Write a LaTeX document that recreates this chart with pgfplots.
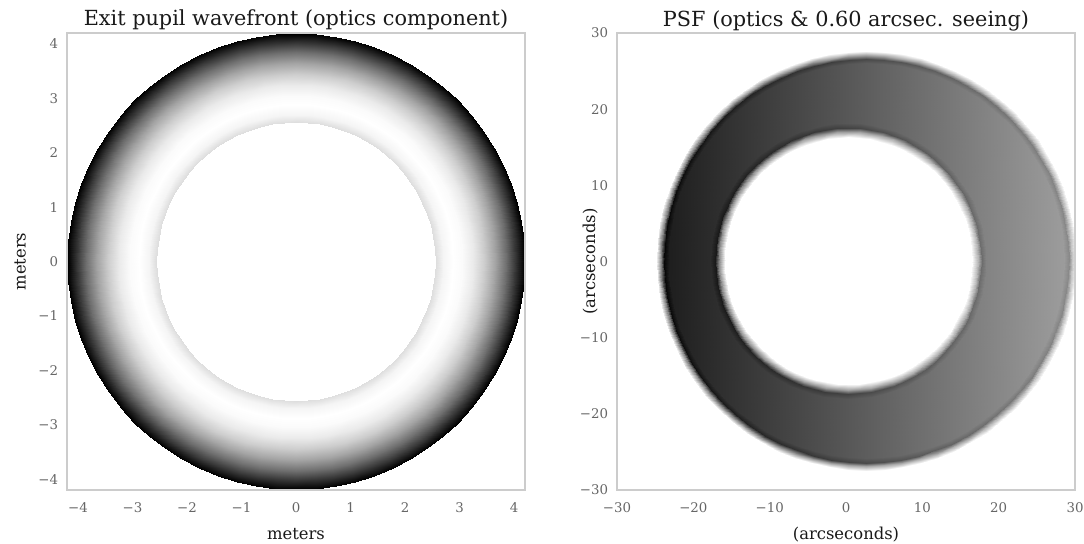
\documentclass[border=0pt]{standalone}
\usepackage{pgfplots}
\pgfplotsset{compat=1.18}
\usepackage{fontspec}
\setmainfont{DejaVu Serif}
\definecolor{tickgray}{gray}{0.40}
\definecolor{framegray}{gray}{0.80}
\definecolor{textdark}{gray}{0.10}
\pgfplotsset{
  base/.style={scale only axis, width=343.5pt, height=342.75pt, anchor=south west},
  disc/.style={base, hide axis, colormap/blackwhite, point meta min=0, point meta max=1},
  frame/.style={base,
    axis line style={line width=0.8pt, draw=framegray},
    major tick length=0pt, tick style={draw=none},
    tick label style={font=\fontsize{10}{12}\selectfont, text=tickgray, inner sep=0pt},
    xticklabel style={anchor=center, yshift=-13.5pt},
    yticklabel style={anchor=east, xshift=-6.5pt},
    every axis title shift=0pt,
    title style={font=\fontsize{15.6}{18}\selectfont, text=textdark, at={(axis description cs:0.5,1)}, anchor=base, yshift=5.25pt},
    label style={font=\fontsize{12.3}{15}\selectfont, text=textdark},
    xlabel style={at={(axis description cs:0.5,0)}, anchor=base, yshift=-36.75pt},
  },
}
\begin{document}
\begin{tikzpicture}
\path[use as bounding box] (0,0) rectangle (813pt,407.25pt);
% ---------------- left panel ----------------
\begin{axis}[frame, at={(50.25pt,39.75pt)}, axis on top,
  xmin=-4.2, xmax=4.2, ymin=-4.2, ymax=4.2,
  colormap/blackwhite, point meta min=0, point meta max=1,
  xtick={-4,-3,...,4}, xticklabels={−4,−3,−2,−1,0,1,2,3,4},
  ytick={-4,-3,...,4}, yticklabels={−4,−3,−2,−1,0,1,2,3,4},
  title={Exit pupil wavefront (optics component)},
  xlabel={meters}, ylabel={meters},
  ylabel style={at={(axis description cs:-0.0906,0.5)}, anchor=base}]
\addplot[surf, shader=interp, data cs=polar, point meta=explicit, mesh/cols=73]
 table[x=a, y=r, meta=c]{
a r c
0 2.56 .87
5 2.56 .87
10 2.56 .87
15 2.56 .87
20 2.56 .87
25 2.56 .87
30 2.56 .87
35 2.56 .87
40 2.56 .87
45 2.56 .87
50 2.56 .87
55 2.56 .87
60 2.56 .87
65 2.56 .87
70 2.56 .87
75 2.56 .87
80 2.56 .87
85 2.56 .87
90 2.56 .87
95 2.56 .87
100 2.56 .87
105 2.56 .87
110 2.56 .87
115 2.56 .87
120 2.56 .87
125 2.56 .87
130 2.56 .87
135 2.56 .87
140 2.56 .87
145 2.56 .87
150 2.56 .87
155 2.56 .87
160 2.56 .87
165 2.56 .87
170 2.56 .87
175 2.56 .87
180 2.56 .87
185 2.56 .87
190 2.56 .87
195 2.56 .87
200 2.56 .87
205 2.56 .87
210 2.56 .87
215 2.56 .87
220 2.56 .87
225 2.56 .87
230 2.56 .87
235 2.56 .87
240 2.56 .87
245 2.56 .87
250 2.56 .87
255 2.56 .87
260 2.56 .87
265 2.56 .87
270 2.56 .87
275 2.56 .87
280 2.56 .87
285 2.56 .87
290 2.56 .87
295 2.56 .87
300 2.56 .87
305 2.56 .87
310 2.56 .87
315 2.56 .87
320 2.56 .87
325 2.56 .87
330 2.56 .87
335 2.56 .87
340 2.56 .87
345 2.56 .87
350 2.56 .87
355 2.56 .87
360 2.56 .87

0 2.70 .96
5 2.70 .96
10 2.70 .96
15 2.70 .96
20 2.70 .96
25 2.70 .96
30 2.70 .96
35 2.70 .96
40 2.70 .96
45 2.70 .96
50 2.70 .96
55 2.70 .96
60 2.70 .96
65 2.70 .96
70 2.70 .96
75 2.70 .96
80 2.70 .96
85 2.70 .96
90 2.70 .96
95 2.70 .96
100 2.70 .96
105 2.70 .96
110 2.70 .96
115 2.70 .96
120 2.70 .96
125 2.70 .96
130 2.70 .96
135 2.70 .96
140 2.70 .96
145 2.70 .96
150 2.70 .96
155 2.70 .96
160 2.70 .96
165 2.70 .96
170 2.70 .96
175 2.70 .96
180 2.70 .96
185 2.70 .96
190 2.70 .96
195 2.70 .96
200 2.70 .96
205 2.70 .96
210 2.70 .96
215 2.70 .96
220 2.70 .96
225 2.70 .96
230 2.70 .96
235 2.70 .96
240 2.70 .96
245 2.70 .96
250 2.70 .96
255 2.70 .96
260 2.70 .96
265 2.70 .96
270 2.70 .96
275 2.70 .96
280 2.70 .96
285 2.70 .96
290 2.70 .96
295 2.70 .96
300 2.70 .96
305 2.70 .96
310 2.70 .96
315 2.70 .96
320 2.70 .96
325 2.70 .96
330 2.70 .96
335 2.70 .96
340 2.70 .96
345 2.70 .96
350 2.70 .96
355 2.70 .96
360 2.70 .96

0 2.88 1
5 2.88 1
10 2.88 1
15 2.88 1
20 2.88 1
25 2.88 1
30 2.88 1
35 2.88 1
40 2.88 1
45 2.88 1
50 2.88 1
55 2.88 1
60 2.88 1
65 2.88 1
70 2.88 1
75 2.88 1
80 2.88 1
85 2.88 1
90 2.88 1
95 2.88 1
100 2.88 1
105 2.88 1
110 2.88 1
115 2.88 1
120 2.88 1
125 2.88 1
130 2.88 1
135 2.88 1
140 2.88 1
145 2.88 1
150 2.88 1
155 2.88 1
160 2.88 1
165 2.88 1
170 2.88 1
175 2.88 1
180 2.88 1
185 2.88 1
190 2.88 1
195 2.88 1
200 2.88 1
205 2.88 1
210 2.88 1
215 2.88 1
220 2.88 1
225 2.88 1
230 2.88 1
235 2.88 1
240 2.88 1
245 2.88 1
250 2.88 1
255 2.88 1
260 2.88 1
265 2.88 1
270 2.88 1
275 2.88 1
280 2.88 1
285 2.88 1
290 2.88 1
295 2.88 1
300 2.88 1
305 2.88 1
310 2.88 1
315 2.88 1
320 2.88 1
325 2.88 1
330 2.88 1
335 2.88 1
340 2.88 1
345 2.88 1
350 2.88 1
355 2.88 1
360 2.88 1

0 3.05 .983
5 3.05 .983
10 3.05 .983
15 3.05 .983
20 3.05 .983
25 3.05 .983
30 3.05 .983
35 3.05 .983
40 3.05 .983
45 3.05 .983
50 3.05 .983
55 3.05 .983
60 3.05 .983
65 3.05 .983
70 3.05 .983
75 3.05 .983
80 3.05 .983
85 3.05 .983
90 3.05 .983
95 3.05 .983
100 3.05 .983
105 3.05 .983
110 3.05 .983
115 3.05 .983
120 3.05 .983
125 3.05 .983
130 3.05 .983
135 3.05 .983
140 3.05 .983
145 3.05 .983
150 3.05 .983
155 3.05 .983
160 3.05 .983
165 3.05 .983
170 3.05 .983
175 3.05 .983
180 3.05 .983
185 3.05 .983
190 3.05 .983
195 3.05 .983
200 3.05 .983
205 3.05 .983
210 3.05 .983
215 3.05 .983
220 3.05 .983
225 3.05 .983
230 3.05 .983
235 3.05 .983
240 3.05 .983
245 3.05 .983
250 3.05 .983
255 3.05 .983
260 3.05 .983
265 3.05 .983
270 3.05 .983
275 3.05 .983
280 3.05 .983
285 3.05 .983
290 3.05 .983
295 3.05 .983
300 3.05 .983
305 3.05 .983
310 3.05 .983
315 3.05 .983
320 3.05 .983
325 3.05 .983
330 3.05 .983
335 3.05 .983
340 3.05 .983
345 3.05 .983
350 3.05 .983
355 3.05 .983
360 3.05 .983

0 3.25 .918
5 3.25 .918
10 3.25 .918
15 3.25 .918
20 3.25 .918
25 3.25 .918
30 3.25 .918
35 3.25 .918
40 3.25 .918
45 3.25 .918
50 3.25 .918
55 3.25 .918
60 3.25 .918
65 3.25 .918
70 3.25 .918
75 3.25 .918
80 3.25 .918
85 3.25 .918
90 3.25 .918
95 3.25 .918
100 3.25 .918
105 3.25 .918
110 3.25 .918
115 3.25 .918
120 3.25 .918
125 3.25 .918
130 3.25 .918
135 3.25 .918
140 3.25 .918
145 3.25 .918
150 3.25 .918
155 3.25 .918
160 3.25 .918
165 3.25 .918
170 3.25 .918
175 3.25 .918
180 3.25 .918
185 3.25 .918
190 3.25 .918
195 3.25 .918
200 3.25 .918
205 3.25 .918
210 3.25 .918
215 3.25 .918
220 3.25 .918
225 3.25 .918
230 3.25 .918
235 3.25 .918
240 3.25 .918
245 3.25 .918
250 3.25 .918
255 3.25 .918
260 3.25 .918
265 3.25 .918
270 3.25 .918
275 3.25 .918
280 3.25 .918
285 3.25 .918
290 3.25 .918
295 3.25 .918
300 3.25 .918
305 3.25 .918
310 3.25 .918
315 3.25 .918
320 3.25 .918
325 3.25 .918
330 3.25 .918
335 3.25 .918
340 3.25 .918
345 3.25 .918
350 3.25 .918
355 3.25 .918
360 3.25 .918

0 3.45 .805
5 3.45 .805
10 3.45 .805
15 3.45 .805
20 3.45 .805
25 3.45 .805
30 3.45 .805
35 3.45 .805
40 3.45 .805
45 3.45 .805
50 3.45 .805
55 3.45 .805
60 3.45 .805
65 3.45 .805
70 3.45 .805
75 3.45 .805
80 3.45 .805
85 3.45 .805
90 3.45 .805
95 3.45 .805
100 3.45 .805
105 3.45 .805
110 3.45 .805
115 3.45 .805
120 3.45 .805
125 3.45 .805
130 3.45 .805
135 3.45 .805
140 3.45 .805
145 3.45 .805
150 3.45 .805
155 3.45 .805
160 3.45 .805
165 3.45 .805
170 3.45 .805
175 3.45 .805
180 3.45 .805
185 3.45 .805
190 3.45 .805
195 3.45 .805
200 3.45 .805
205 3.45 .805
210 3.45 .805
215 3.45 .805
220 3.45 .805
225 3.45 .805
230 3.45 .805
235 3.45 .805
240 3.45 .805
245 3.45 .805
250 3.45 .805
255 3.45 .805
260 3.45 .805
265 3.45 .805
270 3.45 .805
275 3.45 .805
280 3.45 .805
285 3.45 .805
290 3.45 .805
295 3.45 .805
300 3.45 .805
305 3.45 .805
310 3.45 .805
315 3.45 .805
320 3.45 .805
325 3.45 .805
330 3.45 .805
335 3.45 .805
340 3.45 .805
345 3.45 .805
350 3.45 .805
355 3.45 .805
360 3.45 .805

0 3.65 .644
5 3.65 .644
10 3.65 .644
15 3.65 .644
20 3.65 .644
25 3.65 .644
30 3.65 .644
35 3.65 .644
40 3.65 .644
45 3.65 .644
50 3.65 .644
55 3.65 .644
60 3.65 .644
65 3.65 .644
70 3.65 .644
75 3.65 .644
80 3.65 .644
85 3.65 .644
90 3.65 .644
95 3.65 .644
100 3.65 .644
105 3.65 .644
110 3.65 .644
115 3.65 .644
120 3.65 .644
125 3.65 .644
130 3.65 .644
135 3.65 .644
140 3.65 .644
145 3.65 .644
150 3.65 .644
155 3.65 .644
160 3.65 .644
165 3.65 .644
170 3.65 .644
175 3.65 .644
180 3.65 .644
185 3.65 .644
190 3.65 .644
195 3.65 .644
200 3.65 .644
205 3.65 .644
210 3.65 .644
215 3.65 .644
220 3.65 .644
225 3.65 .644
230 3.65 .644
235 3.65 .644
240 3.65 .644
245 3.65 .644
250 3.65 .644
255 3.65 .644
260 3.65 .644
265 3.65 .644
270 3.65 .644
275 3.65 .644
280 3.65 .644
285 3.65 .644
290 3.65 .644
295 3.65 .644
300 3.65 .644
305 3.65 .644
310 3.65 .644
315 3.65 .644
320 3.65 .644
325 3.65 .644
330 3.65 .644
335 3.65 .644
340 3.65 .644
345 3.65 .644
350 3.65 .644
355 3.65 .644
360 3.65 .644

0 3.85 .435
5 3.85 .435
10 3.85 .435
15 3.85 .435
20 3.85 .435
25 3.85 .435
30 3.85 .435
35 3.85 .435
40 3.85 .435
45 3.85 .435
50 3.85 .435
55 3.85 .435
60 3.85 .435
65 3.85 .435
70 3.85 .435
75 3.85 .435
80 3.85 .435
85 3.85 .435
90 3.85 .435
95 3.85 .435
100 3.85 .435
105 3.85 .435
110 3.85 .435
115 3.85 .435
120 3.85 .435
125 3.85 .435
130 3.85 .435
135 3.85 .435
140 3.85 .435
145 3.85 .435
150 3.85 .435
155 3.85 .435
160 3.85 .435
165 3.85 .435
170 3.85 .435
175 3.85 .435
180 3.85 .435
185 3.85 .435
190 3.85 .435
195 3.85 .435
200 3.85 .435
205 3.85 .435
210 3.85 .435
215 3.85 .435
220 3.85 .435
225 3.85 .435
230 3.85 .435
235 3.85 .435
240 3.85 .435
245 3.85 .435
250 3.85 .435
255 3.85 .435
260 3.85 .435
265 3.85 .435
270 3.85 .435
275 3.85 .435
280 3.85 .435
285 3.85 .435
290 3.85 .435
295 3.85 .435
300 3.85 .435
305 3.85 .435
310 3.85 .435
315 3.85 .435
320 3.85 .435
325 3.85 .435
330 3.85 .435
335 3.85 .435
340 3.85 .435
345 3.85 .435
350 3.85 .435
355 3.85 .435
360 3.85 .435

0 4.02 .22
5 4.02 .22
10 4.02 .22
15 4.02 .22
20 4.02 .22
25 4.02 .22
30 4.02 .22
35 4.02 .22
40 4.02 .22
45 4.02 .22
50 4.02 .22
55 4.02 .22
60 4.02 .22
65 4.02 .22
70 4.02 .22
75 4.02 .22
80 4.02 .22
85 4.02 .22
90 4.02 .22
95 4.02 .22
100 4.02 .22
105 4.02 .22
110 4.02 .22
115 4.02 .22
120 4.02 .22
125 4.02 .22
130 4.02 .22
135 4.02 .22
140 4.02 .22
145 4.02 .22
150 4.02 .22
155 4.02 .22
160 4.02 .22
165 4.02 .22
170 4.02 .22
175 4.02 .22
180 4.02 .22
185 4.02 .22
190 4.02 .22
195 4.02 .22
200 4.02 .22
205 4.02 .22
210 4.02 .22
215 4.02 .22
220 4.02 .22
225 4.02 .22
230 4.02 .22
235 4.02 .22
240 4.02 .22
245 4.02 .22
250 4.02 .22
255 4.02 .22
260 4.02 .22
265 4.02 .22
270 4.02 .22
275 4.02 .22
280 4.02 .22
285 4.02 .22
290 4.02 .22
295 4.02 .22
300 4.02 .22
305 4.02 .22
310 4.02 .22
315 4.02 .22
320 4.02 .22
325 4.02 .22
330 4.02 .22
335 4.02 .22
340 4.02 .22
345 4.02 .22
350 4.02 .22
355 4.02 .22
360 4.02 .22

0 4.19 0
5 4.19 0
10 4.19 0
15 4.19 0
20 4.19 0
25 4.19 0
30 4.19 0
35 4.19 0
40 4.19 0
45 4.19 0
50 4.19 0
55 4.19 0
60 4.19 0
65 4.19 0
70 4.19 0
75 4.19 0
80 4.19 0
85 4.19 0
90 4.19 0
95 4.19 0
100 4.19 0
105 4.19 0
110 4.19 0
115 4.19 0
120 4.19 0
125 4.19 0
130 4.19 0
135 4.19 0
140 4.19 0
145 4.19 0
150 4.19 0
155 4.19 0
160 4.19 0
165 4.19 0
170 4.19 0
175 4.19 0
180 4.19 0
185 4.19 0
190 4.19 0
195 4.19 0
200 4.19 0
205 4.19 0
210 4.19 0
215 4.19 0
220 4.19 0
225 4.19 0
230 4.19 0
235 4.19 0
240 4.19 0
245 4.19 0
250 4.19 0
255 4.19 0
260 4.19 0
265 4.19 0
270 4.19 0
275 4.19 0
280 4.19 0
285 4.19 0
290 4.19 0
295 4.19 0
300 4.19 0
305 4.19 0
310 4.19 0
315 4.19 0
320 4.19 0
325 4.19 0
330 4.19 0
335 4.19 0
340 4.19 0
345 4.19 0
350 4.19 0
355 4.19 0
360 4.19 0
};
\end{axis}
% ---------------- right panel: outer disc (centre 2.65, 0.1) ----------------
\begin{axis}[disc, at={(462.75pt,39.75pt)},
  xmin=-32.65, xmax=27.35, ymin=-30.1, ymax=29.9]
\addplot[surf, shader=interp, data cs=polar, point meta=explicit, mesh/cols=73]
 table[x=a, y=r, meta=c]{
a r c
0 0 .365
5 0 .365
10 0 .365
15 0 .365
20 0 .365
25 0 .365
30 0 .365
35 0 .365
40 0 .365
45 0 .365
50 0 .365
55 0 .365
60 0 .365
65 0 .365
70 0 .365
75 0 .365
80 0 .365
85 0 .365
90 0 .365
95 0 .365
100 0 .365
105 0 .365
110 0 .365
115 0 .365
120 0 .365
125 0 .365
130 0 .365
135 0 .365
140 0 .365
145 0 .365
150 0 .365
155 0 .365
160 0 .365
165 0 .365
170 0 .365
175 0 .365
180 0 .365
185 0 .365
190 0 .365
195 0 .365
200 0 .365
205 0 .365
210 0 .365
215 0 .365
220 0 .365
225 0 .365
230 0 .365
235 0 .365
240 0 .365
245 0 .365
250 0 .365
255 0 .365
260 0 .365
265 0 .365
270 0 .365
275 0 .365
280 0 .365
285 0 .365
290 0 .365
295 0 .365
300 0 .365
305 0 .365
310 0 .365
315 0 .365
320 0 .365
325 0 .365
330 0 .365
335 0 .365
340 0 .365
345 0 .365
350 0 .365
355 0 .365
360 0 .365

0 25.9 .611
5 25.9 .610
10 25.9 .607
15 25.9 .603
20 25.9 .596
25 25.9 .588
30 25.9 .578
35 25.9 .567
40 25.9 .553
45 25.9 .539
50 25.9 .523
55 25.9 .506
60 25.9 .488
65 25.9 .469
70 25.9 .449
75 25.9 .429
80 25.9 .408
85 25.9 .387
90 25.9 .365
95 25.9 .344
100 25.9 .322
105 25.9 .301
110 25.9 .281
115 25.9 .261
120 25.9 .242
125 25.9 .224
130 25.9 .207
135 25.9 .191
140 25.9 .177
145 25.9 .163
150 25.9 .152
155 25.9 .142
160 25.9 .134
165 25.9 .127
170 25.9 .123
175 25.9 .120
180 25.9 .119
185 25.9 .120
190 25.9 .123
195 25.9 .127
200 25.9 .134
205 25.9 .142
210 25.9 .152
215 25.9 .163
220 25.9 .177
225 25.9 .191
230 25.9 .207
235 25.9 .224
240 25.9 .242
245 25.9 .261
250 25.9 .281
255 25.9 .301
260 25.9 .322
265 25.9 .344
270 25.9 .365
275 25.9 .387
280 25.9 .408
285 25.9 .429
290 25.9 .449
295 25.9 .469
300 25.9 .488
305 25.9 .506
310 25.9 .523
315 25.9 .539
320 25.9 .553
325 25.9 .567
330 25.9 .578
335 25.9 .588
340 25.9 .596
345 25.9 .603
350 25.9 .607
355 25.9 .610
360 25.9 .611

0 26.5 .538
5 26.5 .537
10 26.5 .534
15 26.5 .529
20 26.5 .522
25 26.5 .514
30 26.5 .504
35 26.5 .492
40 26.5 .479
45 26.5 .464
50 26.5 .447
55 26.5 .430
60 26.5 .411
65 26.5 .392
70 26.5 .371
75 26.5 .350
80 26.5 .329
85 26.5 .307
90 26.5 .285
95 26.5 .263
100 26.5 .241
105 26.5 .220
110 26.5 .199
115 26.5 .178
120 26.5 .159
125 26.5 .140
130 26.5 .123
135 26.5 .106
140 26.5 .091
145 26.5 .078
150 26.5 .066
155 26.5 .056
160 26.5 .048
165 26.5 .041
170 26.5 .036
175 26.5 .033
180 26.5 .032
185 26.5 .033
190 26.5 .036
195 26.5 .041
200 26.5 .048
205 26.5 .056
210 26.5 .066
215 26.5 .078
220 26.5 .091
225 26.5 .106
230 26.5 .123
235 26.5 .140
240 26.5 .159
245 26.5 .178
250 26.5 .199
255 26.5 .220
260 26.5 .241
265 26.5 .263
270 26.5 .285
275 26.5 .307
280 26.5 .329
285 26.5 .350
290 26.5 .371
295 26.5 .392
300 26.5 .411
305 26.5 .430
310 26.5 .447
315 26.5 .464
320 26.5 .479
325 26.5 .492
330 26.5 .504
335 26.5 .514
340 26.5 .522
345 26.5 .529
350 26.5 .534
355 26.5 .537
360 26.5 .538

0 26.95 .771
5 26.95 .770
10 26.95 .769
15 26.95 .767
20 26.95 .763
25 26.95 .759
30 26.95 .754
35 26.95 .748
40 26.95 .741
45 26.95 .733
50 26.95 .725
55 26.95 .716
60 26.95 .707
65 26.95 .697
70 26.95 .686
75 26.95 .676
80 26.95 .665
85 26.95 .654
90 26.95 .643
95 26.95 .631
100 26.95 .620
105 26.95 .609
110 26.95 .599
115 26.95 .588
120 26.95 .578
125 26.95 .569
130 26.95 .560
135 26.95 .552
140 26.95 .544
145 26.95 .537
150 26.95 .531
155 26.95 .526
160 26.95 .522
165 26.95 .518
170 26.95 .516
175 26.95 .514
180 26.95 .514
185 26.95 .514
190 26.95 .516
195 26.95 .518
200 26.95 .522
205 26.95 .526
210 26.95 .531
215 26.95 .537
220 26.95 .544
225 26.95 .552
230 26.95 .560
235 26.95 .569
240 26.95 .578
245 26.95 .588
250 26.95 .599
255 26.95 .609
260 26.95 .620
265 26.95 .631
270 26.95 .643
275 26.95 .654
280 26.95 .665
285 26.95 .676
290 26.95 .686
295 26.95 .697
300 26.95 .707
305 26.95 .716
310 26.95 .725
315 26.95 .733
320 26.95 .741
325 26.95 .748
330 26.95 .754
335 26.95 .759
340 26.95 .763
345 26.95 .767
350 26.95 .769
355 26.95 .770
360 26.95 .771

0 27.55 1
5 27.55 1
10 27.55 1
15 27.55 1
20 27.55 1
25 27.55 1
30 27.55 1
35 27.55 1
40 27.55 1
45 27.55 1
50 27.55 1
55 27.55 1
60 27.55 1
65 27.55 1
70 27.55 1
75 27.55 1
80 27.55 1
85 27.55 1
90 27.55 1
95 27.55 1
100 27.55 1
105 27.55 1
110 27.55 1
115 27.55 1
120 27.55 1
125 27.55 1
130 27.55 1
135 27.55 1
140 27.55 1
145 27.55 1
150 27.55 1
155 27.55 1
160 27.55 1
165 27.55 1
170 27.55 1
175 27.55 1
180 27.55 1
185 27.55 1
190 27.55 1
195 27.55 1
200 27.55 1
205 27.55 1
210 27.55 1
215 27.55 1
220 27.55 1
225 27.55 1
230 27.55 1
235 27.55 1
240 27.55 1
245 27.55 1
250 27.55 1
255 27.55 1
260 27.55 1
265 27.55 1
270 27.55 1
275 27.55 1
280 27.55 1
285 27.55 1
290 27.55 1
295 27.55 1
300 27.55 1
305 27.55 1
310 27.55 1
315 27.55 1
320 27.55 1
325 27.55 1
330 27.55 1
335 27.55 1
340 27.55 1
345 27.55 1
350 27.55 1
355 27.55 1
360 27.55 1
};
\end{axis}
% ---------------- right panel: inner hole (centre 0.3, 0.1) ----------------
\begin{axis}[disc, at={(462.75pt,39.75pt)},
  xmin=-30.3, xmax=29.7, ymin=-30.1, ymax=29.9]
\addplot[surf, shader=interp, data cs=polar, point meta=explicit, mesh/cols=73]
 table[x=a, y=r, meta=c]{
a r c
0 0 1
5 0 1
10 0 1
15 0 1
20 0 1
25 0 1
30 0 1
35 0 1
40 0 1
45 0 1
50 0 1
55 0 1
60 0 1
65 0 1
70 0 1
75 0 1
80 0 1
85 0 1
90 0 1
95 0 1
100 0 1
105 0 1
110 0 1
115 0 1
120 0 1
125 0 1
130 0 1
135 0 1
140 0 1
145 0 1
150 0 1
155 0 1
160 0 1
165 0 1
170 0 1
175 0 1
180 0 1
185 0 1
190 0 1
195 0 1
200 0 1
205 0 1
210 0 1
215 0 1
220 0 1
225 0 1
230 0 1
235 0 1
240 0 1
245 0 1
250 0 1
255 0 1
260 0 1
265 0 1
270 0 1
275 0 1
280 0 1
285 0 1
290 0 1
295 0 1
300 0 1
305 0 1
310 0 1
315 0 1
320 0 1
325 0 1
330 0 1
335 0 1
340 0 1
345 0 1
350 0 1
355 0 1
360 0 1

0 16.2 1
5 16.2 1
10 16.2 1
15 16.2 1
20 16.2 1
25 16.2 1
30 16.2 1
35 16.2 1
40 16.2 1
45 16.2 1
50 16.2 1
55 16.2 1
60 16.2 1
65 16.2 1
70 16.2 1
75 16.2 1
80 16.2 1
85 16.2 1
90 16.2 1
95 16.2 1
100 16.2 1
105 16.2 1
110 16.2 1
115 16.2 1
120 16.2 1
125 16.2 1
130 16.2 1
135 16.2 1
140 16.2 1
145 16.2 1
150 16.2 1
155 16.2 1
160 16.2 1
165 16.2 1
170 16.2 1
175 16.2 1
180 16.2 1
185 16.2 1
190 16.2 1
195 16.2 1
200 16.2 1
205 16.2 1
210 16.2 1
215 16.2 1
220 16.2 1
225 16.2 1
230 16.2 1
235 16.2 1
240 16.2 1
245 16.2 1
250 16.2 1
255 16.2 1
260 16.2 1
265 16.2 1
270 16.2 1
275 16.2 1
280 16.2 1
285 16.2 1
290 16.2 1
295 16.2 1
300 16.2 1
305 16.2 1
310 16.2 1
315 16.2 1
320 16.2 1
325 16.2 1
330 16.2 1
335 16.2 1
340 16.2 1
345 16.2 1
350 16.2 1
355 16.2 1
360 16.2 1

0 16.95 .712
5 16.95 .712
10 16.95 .711
15 16.95 .709
20 16.95 .707
25 16.95 .705
30 16.95 .701
35 16.95 .697
40 16.95 .693
45 16.95 .688
50 16.95 .683
55 16.95 .678
60 16.95 .672
65 16.95 .666
70 16.95 .659
75 16.95 .652
80 16.95 .645
85 16.95 .639
90 16.95 .632
95 16.95 .625
100 16.95 .618
105 16.95 .611
110 16.95 .604
115 16.95 .598
120 16.95 .591
125 16.95 .585
130 16.95 .580
135 16.95 .575
140 16.95 .570
145 16.95 .566
150 16.95 .562
155 16.95 .559
160 16.95 .556
165 16.95 .554
170 16.95 .552
175 16.95 .551
180 16.95 .551
185 16.95 .551
190 16.95 .552
195 16.95 .554
200 16.95 .556
205 16.95 .559
210 16.95 .562
215 16.95 .566
220 16.95 .570
225 16.95 .575
230 16.95 .580
235 16.95 .585
240 16.95 .591
245 16.95 .598
250 16.95 .604
255 16.95 .611
260 16.95 .618
265 16.95 .625
270 16.95 .632
275 16.95 .639
280 16.95 .645
285 16.95 .652
290 16.95 .659
295 16.95 .666
300 16.95 .672
305 16.95 .678
310 16.95 .683
315 16.95 .688
320 16.95 .693
325 16.95 .697
330 16.95 .701
335 16.95 .705
340 16.95 .707
345 16.95 .709
350 16.95 .711
355 16.95 .712
360 16.95 .712

0 17.45 .429
5 17.45 .428
10 17.45 .426
15 17.45 .423
20 17.45 .419
25 17.45 .413
30 17.45 .407
35 17.45 .399
40 17.45 .390
45 17.45 .380
50 17.45 .370
55 17.45 .358
60 17.45 .346
65 17.45 .333
70 17.45 .320
75 17.45 .306
80 17.45 .292
85 17.45 .278
90 17.45 .263
95 17.45 .249
100 17.45 .234
105 17.45 .220
110 17.45 .206
115 17.45 .193
120 17.45 .180
125 17.45 .168
130 17.45 .156
135 17.45 .146
140 17.45 .136
145 17.45 .127
150 17.45 .119
155 17.45 .113
160 17.45 .107
165 17.45 .103
170 17.45 .100
175 17.45 .098
180 17.45 .097
185 17.45 .098
190 17.45 .100
195 17.45 .103
200 17.45 .107
205 17.45 .113
210 17.45 .119
215 17.45 .127
220 17.45 .136
225 17.45 .146
230 17.45 .156
235 17.45 .168
240 17.45 .180
245 17.45 .193
250 17.45 .206
255 17.45 .220
260 17.45 .234
265 17.45 .249
270 17.45 .263
275 17.45 .278
280 17.45 .292
285 17.45 .306
290 17.45 .320
295 17.45 .333
300 17.45 .346
305 17.45 .358
310 17.45 .370
315 17.45 .380
320 17.45 .390
325 17.45 .399
330 17.45 .407
335 17.45 .413
340 17.45 .419
345 17.45 .423
350 17.45 .426
355 17.45 .428
360 17.45 .429

0 18.1 .515
5 18.1 .514
10 18.1 .512
15 18.1 .509
20 18.1 .505
25 18.1 .499
30 18.1 .492
35 18.1 .484
40 18.1 .475
45 18.1 .465
50 18.1 .454
55 18.1 .442
60 18.1 .429
65 18.1 .416
70 18.1 .402
75 18.1 .388
80 18.1 .373
85 18.1 .358
90 18.1 .343
95 18.1 .328
100 18.1 .313
105 18.1 .299
110 18.1 .284
115 18.1 .270
120 18.1 .257
125 18.1 .244
130 18.1 .232
135 18.1 .221
140 18.1 .211
145 18.1 .202
150 18.1 .194
155 18.1 .187
160 18.1 .181
165 18.1 .177
170 18.1 .174
175 18.1 .172
180 18.1 .171
185 18.1 .172
190 18.1 .174
195 18.1 .177
200 18.1 .181
205 18.1 .187
210 18.1 .194
215 18.1 .202
220 18.1 .211
225 18.1 .221
230 18.1 .232
235 18.1 .244
240 18.1 .257
245 18.1 .270
250 18.1 .284
255 18.1 .299
260 18.1 .313
265 18.1 .328
270 18.1 .343
275 18.1 .358
280 18.1 .373
285 18.1 .388
290 18.1 .402
295 18.1 .416
300 18.1 .429
305 18.1 .442
310 18.1 .454
315 18.1 .465
320 18.1 .475
325 18.1 .484
330 18.1 .492
335 18.1 .499
340 18.1 .505
345 18.1 .509
350 18.1 .512
355 18.1 .514
360 18.1 .515
};
\end{axis}
% ---------------- right panel: frame, ticks and labels ----------------
\begin{axis}[frame, at={(462.75pt,39.75pt)},
  xmin=-30, xmax=30, ymin=-30, ymax=30,
  xtick={-30,-20,...,30}, xticklabels={−30,−20,−10,0,10,20,30},
  ytick={-30,-20,...,30}, yticklabels={−30,−20,−10,0,10,20,30},
  title={PSF (optics \& 0.60 arcsec. seeing)},
  xlabel={(arcseconds)}, ylabel={(arcseconds)},
  ylabel style={at={(axis description cs:-0.048,0.5)}, anchor=base}]
\end{axis}
\end{tikzpicture}
\end{document}
